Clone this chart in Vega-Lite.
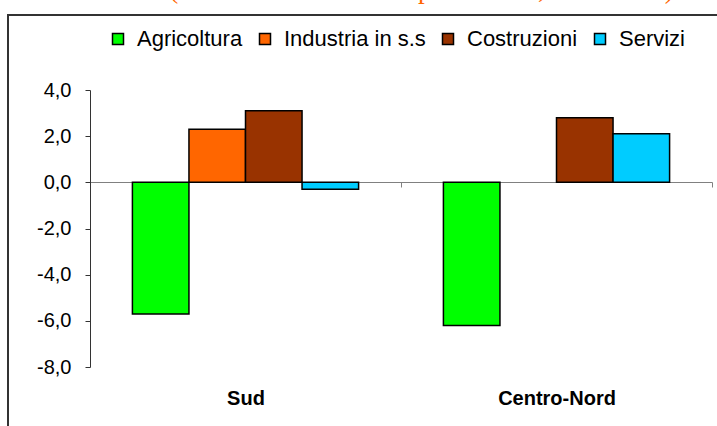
{
  "$schema": "https://vega.github.io/schema/vega-lite/v6.json",
  "autosize": "none",
  "width": 719,
  "height": 421,
  "padding": {"left": 8, "top": 15, "right": -10, "bottom": -10},
  "background": "white",
  "title": {
    "text": "(variazioni tendenziali percentuali, anno 2008)",
    "font": "Liberation Serif",
    "fontSize": 27,
    "fontWeight": "normal",
    "color": "#FF6600",
    "baseline": "alphabetic",
    "anchor": "middle",
    "frame": "group",
    "offset": 6,
    "dy": 16,
    "dx": 54
  },
  "config": {
    "view": {"stroke": "#333333", "strokeWidth": 2},
    "font": "Liberation Sans"
  },
  "data": {
    "values": [
      {"area": "Sud", "settore": "Agricoltura", "valore": -5.7},
      {"area": "Sud", "settore": "Industria in s.s", "valore": 2.3},
      {"area": "Sud", "settore": "Costruzioni", "valore": 3.1},
      {"area": "Sud", "settore": "Servizi", "valore": -0.3},
      {"area": "Centro-Nord", "settore": "Agricoltura", "valore": -6.2},
      {"area": "Centro-Nord", "settore": "Costruzioni", "valore": 2.8},
      {"area": "Centro-Nord", "settore": "Servizi", "valore": 2.1}
    ]
  },
  "mark": {"type": "bar", "stroke": "black", "strokeWidth": 1.5},
  "encoding": {
    "x": {
      "field": "area",
      "type": "nominal",
      "sort": ["Sud", "Centro-Nord"],
      "scale": {"range": [82, 704], "paddingInner": 0, "paddingOuter": 0},
      "axis": {
        "title": null,
        "orient": "bottom",
        "offset": -254,
        "tickBand": "extent",
        "tickSize": 5,
        "tickColor": "#808080",
        "domainColor": "#808080",
        "labelAngle": 0,
        "labelFont": "Liberation Sans",
        "labelFontSize": 20,
        "labelFontWeight": "bold",
        "labelColor": "black",
        "labelPadding": 201
      }
    },
    "xOffset": {
      "field": "settore",
      "type": "nominal",
      "sort": ["Agricoltura", "Industria in s.s", "Costruzioni", "Servizi"],
      "scale": {"paddingInner": 0, "paddingOuter": 0.75}
    },
    "y": {
      "field": "valore",
      "type": "quantitative",
      "scale": {"domain": [-8, 4], "range": [352, 75], "nice": false, "zero": false},
      "axis": {
        "title": null,
        "orient": "left",
        "offset": -82,
        "values": [-8, -6, -4, -2, 0, 2, 4],
        "grid": false,
        "tickSize": 5,
        "tickColor": "#333333",
        "domainColor": "#333333",
        "labelFont": "Liberation Sans",
        "labelFontSize": 20,
        "labelColor": "black",
        "labelPadding": 14,
        "labelExpr": "replace(replace(format(datum.value, '.1f'), '.', ','), '−', '-')"
      }
    },
    "color": {
      "field": "settore",
      "type": "nominal",
      "sort": ["Agricoltura", "Industria in s.s", "Costruzioni", "Servizi"],
      "scale": {
        "domain": ["Agricoltura", "Industria in s.s", "Costruzioni", "Servizi"],
        "range": ["#00FF00", "#FF6600", "#993300", "#00CCFF"]
      },
      "legend": {
        "title": null,
        "orient": "none",
        "direction": "horizontal",
        "legendX": 99,
        "legendY": 13,
        "symbolType": "square",
        "symbolSize": 121,
        "symbolStrokeColor": "black",
        "symbolStrokeWidth": 1.5,
        "symbolOpacity": 1,
        "labelFont": "Liberation Sans",
        "labelFontSize": 22,
        "labelColor": "black",
        "labelOffset": 8,
        "columnPadding": 11,
        "labelLimit": 300
      }
    }
  }
}
